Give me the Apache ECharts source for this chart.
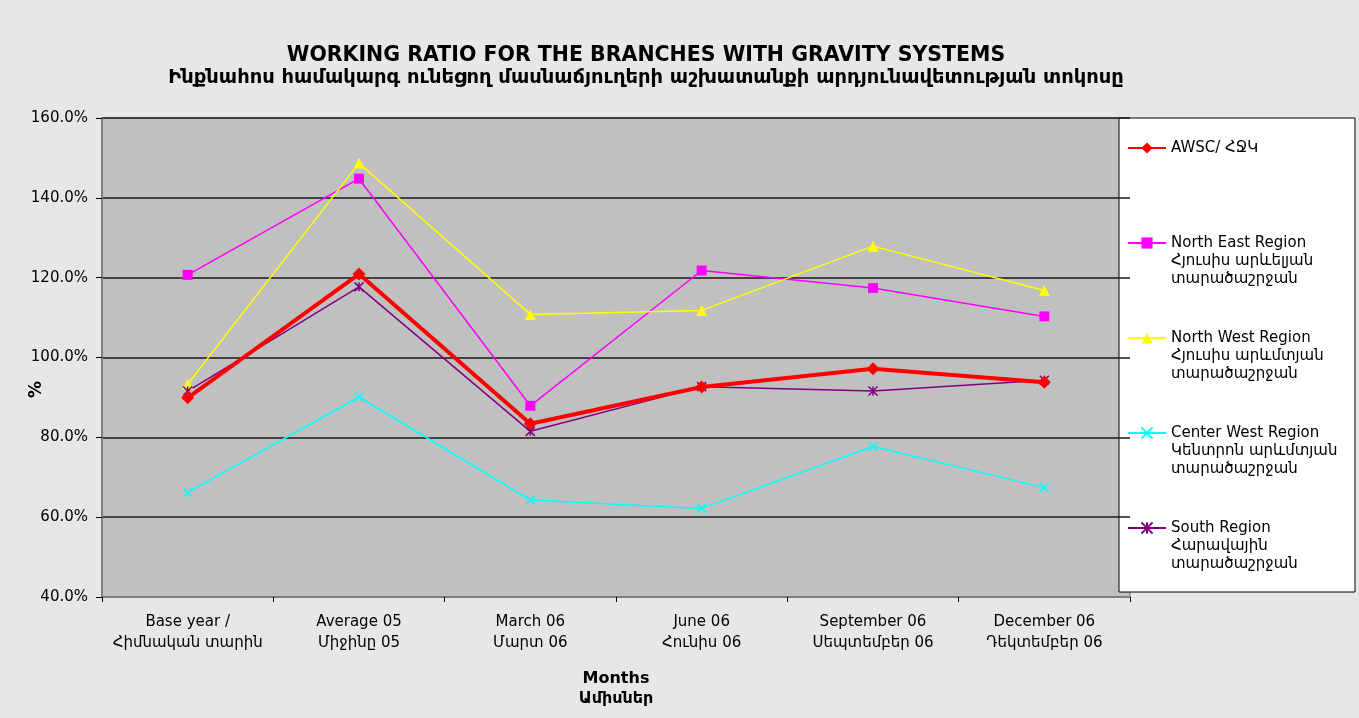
<!DOCTYPE html>
<html>
<head>
<meta charset="utf-8">
<script src="https://cdn.jsdelivr.net/npm/echarts@6/dist/echarts.min.js"></script>
<style>
  html, body { margin: 0; padding: 0; }
  #main { width: 1359px; height: 718px; }
</style>
</head>
<body>
<div id="main"></div>
<script>
// data (percent)
const months = [
  'Base year /\nՀիմնական տարին',
  'Average 05\nՄիջինը 05',
  'March 06\nՄարտ 06',
  'June 06\nՀունիս 06',
  'September 06\nՍեպտեմբեր 06',
  'December 06\nԴեկտեմբեր 06'
];
const awsc = [89.9, 120.9, 83.4, 92.6, 97.2, 93.8];
const northEast = [120.7, 144.8, 87.9, 121.8, 117.4, 110.3];
const northWest = [93.3, 148.7, 110.8, 111.8, 127.9, 116.8];
const centerWest = [66.2, 90.1, 64.3, 62.2, 77.7, 67.4];
const south = [91.6, 117.7, 81.5, 92.7, 91.6, 94.3];
const yTicks = [40, 60, 80, 100, 120, 140, 160];

const names = [
  'AWSC/ ՀՋԿ',
  'North East Region\nՀյուսիս արևելյան\nտարածաշրջան',
  'North West Region\nՀյուսիս արևմտյան\nտարածաշրջան',
  'Center West Region\nԿենտրոն արևմտյան\nտարածաշրջան',
  'South Region\nՀարավային\nտարածաշրջան'
];

const font = '"DejaVu Sans", sans-serif';

let myChart = echarts.init(document.getElementById('main'));

// one legend per series, so each can sit where the reference puts it
function legendAt(name, top, multi) {
  return {
    data: [name],
    left: 1127,
    top: top,
    orient: 'vertical',
    itemWidth: 38,
    itemHeight: 14,
    itemGap: 0,
    padding: 0,
    selectedMode: false,
    // two empty lines in front keep the icon level with the first line
    formatter: n => multi ? '\n\n' + n : n,
    textStyle: {
      fontFamily: font,
      fontSize: 15,
      color: '#000',
      lineHeight: 18
    }
  };
}

myChart.setOption({
  backgroundColor: '#e7e7e7',
  animation: false,
  title: {
    text: 'WORKING RATIO FOR THE BRANCHES WITH GRAVITY SYSTEMS',
    subtext: 'Ինքնահոս համակարգ ունեցող մասնաճյուղերի աշխատանքի արդյունավետության տոկոսը',
    left: 641,
    top: 40,
    textAlign: 'center',
    itemGap: 2,
    textStyle: { fontFamily: font, fontSize: 20.5, fontWeight: 'bold', color: '#000' },
    subtextStyle: { fontFamily: font, fontSize: 19.5, fontWeight: 'bold', color: '#000' }
  },
  graphic: [{
    type: 'rect',
    shape: { x: 1119, y: 118, width: 236, height: 474 },
    style: { fill: '#fff', stroke: '#000', lineWidth: 1 },
    z: 0
  }],
  legend: [
    legendAt(names[0], 139, false),
    legendAt(names[1], 198, true),
    legendAt(names[2], 293, true),
    legendAt(names[3], 388, true),
    legendAt(names[4], 483, true)
  ],
  grid: {
    left: 102,
    right: 229,
    top: 118,
    bottom: 121,
    outerBoundsMode: 'none',
    containLabel: false,
    show: true,
    backgroundColor: '#c0c0c0',
    borderColor: '#808080',
    borderWidth: 1
  },
  xAxis: {
    type: 'category',
    data: months,
    boundaryGap: true,
    name: 'Months\nԱմիսներ',
    nameLocation: 'middle',
    nameGap: 72,
    nameMoveOverlap: false,
    nameTextStyle: { fontFamily: font, fontSize: 16, fontWeight: 'bold', color: '#000', lineHeight: 20 },
    axisLine: { lineStyle: { color: '#808080', width: 2 } },
    axisTick: { show: true, alignWithLabel: false, length: 5, lineStyle: { color: '#000' } },
    axisLabel: { interval: 0, fontFamily: font, fontSize: 15, color: '#000', lineHeight: 21, margin: 15 }
  },
  yAxis: {
    type: 'value',
    min: yTicks[0],
    max: yTicks[yTicks.length - 1],
    interval: 20,
    name: '%',
    nameLocation: 'middle',
    nameGap: 57,
    nameMoveOverlap: false,
    nameTextStyle: { fontFamily: font, fontSize: 17, fontWeight: 'bold', color: '#000', padding: [0, 64, 0, 0] },
    axisLine: { show: true, lineStyle: { color: '#808080', width: 2 } },
    axisTick: { show: true, length: 6, lineStyle: { color: '#000' } },
    axisLabel: {
      fontFamily: font, fontSize: 15, color: '#000', margin: 14,
      formatter: v => v.toFixed(1) + '%'
    },
    splitLine: { show: true, lineStyle: { color: '#1a1a1a', width: 1.5 } }
  },
  series: [{
    name: names[0],
    type: 'line',
    data: awsc,
    color: '#ff0000',
    symbol: 'diamond',
    symbolSize: 13,
    lineStyle: { width: 4 },
    z: 5
  }, {
    name: names[1],
    type: 'line',
    data: northEast,
    color: '#ff00ff',
    symbol: 'rect',
    symbolSize: 10,
    lineStyle: { width: 1.5 }
  }, {
    name: names[2],
    type: 'line',
    data: northWest,
    color: '#ffff00',
    symbol: 'triangle',
    symbolSize: 11,
    lineStyle: { width: 1.5 }
  }, {
    name: names[3],
    type: 'line',
    data: centerWest,
    color: '#00ffff',
    symbol: 'path://M0,0L10,10M10,0L0,10',
    symbolSize: 9,
    itemStyle: { borderColor: '#00ffff', borderWidth: 1.5 },
    lineStyle: { width: 1.5 }
  }, {
    name: names[4],
    type: 'line',
    data: south,
    color: '#800080',
    symbol: 'path://M0,0L10,10M10,0L0,10M5,0L5,10',
    symbolSize: 9,
    itemStyle: { borderColor: '#800080', borderWidth: 1.5 },
    lineStyle: { width: 1.5 }
  }]
});
</script>
</body>
</html>
